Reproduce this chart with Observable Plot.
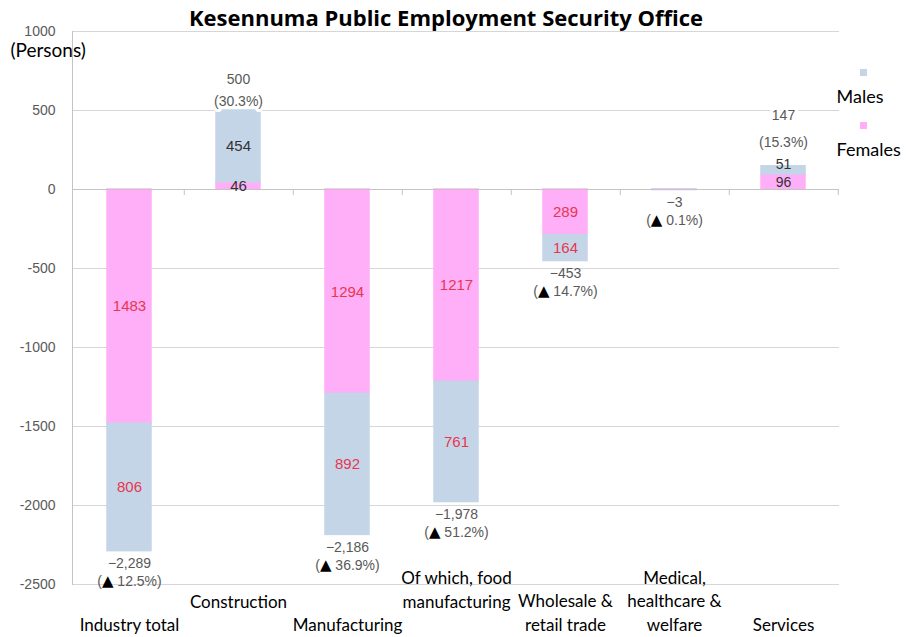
<!DOCTYPE html>
<html><head><meta charset="utf-8">
<script src="https://cdn.jsdelivr.net/npm/d3@7"></script>
<script src="https://cdn.jsdelivr.net/npm/@observablehq/plot@0.6"></script>
<style>body{margin:0;background:#fff}</style>
</head><body><div id="chart"></div>
<script>
const categories = ["Industry total","Construction","Manufacturing","Of which, food manufacturing","Wholesale & retail trade","Medical, healthcare & welfare","Services"];
const categoryLabels = ["Industry total","Construction","Manufacturing","Of which, food\nmanufacturing","Wholesale &\nretail trade","Medical,\nhealthcare &\nwelfare","Services"];
const upperRowCategories = ["Construction","Of which, food manufacturing"];
const femalesChange = [-1483, 46, -1294, -1217, -289, -2, 96];
const malesChange = [-806, 454, -892, -761, -164, -1, 51];
const femaleLabels = ["1483","46","1294","1217","289",null,"96"];
const maleLabels = ["806","454","892","761","164",null,"51"];
const totalLabels = ["−2,289","500","−2,186","−1,978","−453","−3","147"];
const percentLabels = ["(▲ 12.5%)","(30.3%)","(▲ 36.9%)","(▲ 51.2%)","(▲ 14.7%)","(▲ 0.1%)","(15.3%)"];
const yTicks = [1000,500,0,-500,-1000,-1500,-2000,-2500];
const series = ["Males","Females"];
const seriesColors = ["#c5d5e8","#ffaef8"];

const W = 909, H = 637, ML = 72, MR = 70, MT = 31, MB = 53;
const step = (W - ML - MR) / categories.length;

const rows = [];
categories.forEach((c, i) => {
  rows.push({cat: c, sex: "Females", value: femalesChange[i], label: femaleLabels[i]});
  rows.push({cat: c, sex: "Males", value: malesChange[i], label: maleLabels[i]});
});
const totals = categories.map((c, i) => ({cat: c, total: femalesChange[i] + malesChange[i], text: totalLabels[i] + "\n" + percentLabels[i]}));
const order = ["Females","Males"];
const negCats = new Set(totals.filter(d => d.total < 0).map(d => d.cat));
const labelFont = "'Liberation Sans', Arial, sans-serif";
const isServices = d => d.cat === "Services";
// in the original, the small "51" label is nudged up so that it clears "96"
const nudged = d => isServices(d) && d.sex === "Males";

const chart = Plot.plot({
  width: W, height: H,
  marginLeft: ML, marginRight: MR, marginTop: MT, marginBottom: MB,
  style: {fontFamily: "Lato, sans-serif", background: "#fff", overflow: "visible"},
  x: {domain: categories, paddingInner: 0.6, paddingOuter: 0.3, axis: null},
  y: {domain: [-2500, 1000], axis: null},
  color: {domain: series, range: seriesColors},
  marks: [
    Plot.gridY(yTicks, {stroke: "#d6d6d6", strokeOpacity: 1}),
    Plot.frame({anchor: "left", stroke: "#c4c4c4"}),
    Plot.axisY(yTicks, {tickSize: 0, tickPadding: 17, tickFormat: d => String(d), fontSize: 14, fill: "#595959", fontFamily: labelFont, label: null}),
    Plot.barY(rows, {x: "cat", y: "value", fill: "sex", stroke: "sex", strokeWidth: 1.5, order}),
    Plot.ruleY([0], {stroke: "#c4c4c4"}),
    Plot.ruleX(categories, {x: d => d, y1: 0, y2: -38, dx: step / 2, stroke: "#c4c4c4"}),
    // segment labels
    Plot.text(rows.filter(d => d.label && negCats.has(d.cat)), Plot.stackY({x: "cat", y: "value", z: "sex", order, text: "label", fill: "#e8364f", fontSize: 15, fontFamily: labelFont})),
    Plot.text(rows.filter(d => d.label && !negCats.has(d.cat)), Plot.stackY({x: "cat", y: "value", z: "sex", order, text: d => isServices(d) ? null : d.label, fill: "#333", fontSize: 15, fontFamily: labelFont})),
    Plot.text(rows.filter(d => d.label && !negCats.has(d.cat)), Plot.stackY({x: "cat", y: "value", z: "sex", order, text: d => isServices(d) && !nudged(d) ? d.label : null, dy: 1, fill: "#333", fontSize: 14, fontFamily: labelFont})),
    Plot.text(rows.filter(d => d.label && !negCats.has(d.cat)), Plot.stackY({x: "cat", y: "value", z: "sex", order, text: d => nudged(d) ? d.label : null, dy: -6, fill: "#333", fontSize: 14, fontFamily: labelFont})),
    // totals
    Plot.text(totals.filter(d => d.total < 0), {x: "cat", y: "total", text: "text", lineAnchor: "top", dy: 4, lineHeight: 1.3, fill: "#595959", fontSize: 14, fontFamily: labelFont}),
    Plot.text(totals.filter(d => d.total > 0 && d.cat === "Construction"), {x: "cat", y: "total", text: "text", lineAnchor: "bottom", dy: -5, lineHeight: 1.57, fill: "#595959", fontSize: 14, fontFamily: labelFont, stroke: "#fff", strokeWidth: 6}),
    Plot.text(totals.filter(d => d.total > 0 && d.cat === "Services"), {x: "cat", y: "total", text: "text", lineAnchor: "bottom", dy: -19, lineHeight: 1.95, fill: "#595959", fontSize: 14, fontFamily: labelFont, stroke: "#fff", strokeWidth: 6}),
    // category labels
    Plot.text(categories.filter(c => !upperRowCategories.includes(c)), {x: d => d, text: d => categoryLabels[categories.indexOf(d)], frameAnchor: "bottom", lineAnchor: "bottom", dy: 46, lineHeight: 1.38, fontSize: 17, fill: "#000"}),
    Plot.text(categories.filter(c => upperRowCategories.includes(c)), {x: d => d, text: d => categoryLabels[categories.indexOf(d)], frameAnchor: "bottom", lineAnchor: "bottom", dy: 23, lineHeight: 1.38, fontSize: 17, fill: "#000"}),
    // title and unit
    Plot.text(["Kesennuma Public Employment Security Office"], {frameAnchor: "top", lineAnchor: "middle", dx: -10, dy: -13, text: d => d, fontSize: 22, fontWeight: 700, fontFamily: "'Open Sans', sans-serif", fill: "#000"}),
    Plot.text(["(Persons)"], {frameAnchor: "top-left", lineAnchor: "middle", textAnchor: "start", dx: -62, dy: 19, text: d => d, fontSize: 19, fill: "#000"}),
    // legend
    Plot.dot([series[0]], {frameAnchor: "top-right", dx: 24, dy: 41, symbol: "square", r: 4, fill: seriesColors[0]}),
    Plot.text([series[0]], {frameAnchor: "top-right", lineAnchor: "middle", textAnchor: "start", dx: -3, dy: 66, text: d => d, fontSize: 18, fill: "#000"}),
    Plot.dot([series[1]], {frameAnchor: "top-right", dx: 24, dy: 94, symbol: "square", r: 4, fill: seriesColors[1]}),
    Plot.text([series[1]], {frameAnchor: "top-right", lineAnchor: "middle", textAnchor: "start", dx: -3, dy: 119, text: d => d, fontSize: 18, fill: "#000"})
  ]
});

// colour the ▲ glyphs black (and a little larger), as in the original
chart.querySelectorAll("tspan, text").forEach(el => {
  if (el.children.length === 0 && el.textContent.includes("▲")) {
    const [before, after] = el.textContent.split("▲");
    el.textContent = before;
    const tri = document.createElementNS("http://www.w3.org/2000/svg", "tspan");
    tri.setAttribute("fill", "#000");
    tri.setAttribute("stroke", "none");
    tri.setAttribute("font-family", "'DejaVu Sans', sans-serif");
    tri.setAttribute("font-size", "15");
    tri.textContent = "▲";
    el.appendChild(tri);
    const rest = document.createElementNS("http://www.w3.org/2000/svg", "tspan");
    rest.textContent = after;
    el.appendChild(rest);
  }
});
document.getElementById("chart").appendChild(chart);
</script>
</body></html>
